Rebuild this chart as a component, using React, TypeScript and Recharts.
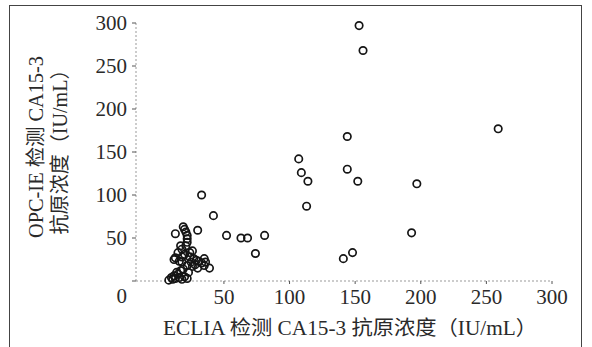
import { ScatterChart, Scatter, XAxis, YAxis } from "recharts";

// values (IU/mL)
const ecliaValues = [
  153, 156, 259, 144, 107, 109, 114, 144, 152, 197, 113, 42, 33, 52, 63, 68, 81, 74, 193, 141, 148,
  30, 35, 39, 26,
  13, 19, 20, 21, 22, 22, 22, 21, 17, 18, 15, 13, 12, 16, 18, 20, 24, 24, 27, 29, 31, 33, 35, 30,
  26, 22, 18, 23, 17, 15, 12, 10, 8, 11, 13, 16, 18, 20, 22, 14, 19, 25, 28, 36,
];
const opcValues = [
  297, 268, 177, 168, 142, 126, 116, 130, 116, 113, 87, 76, 100, 53, 50, 50, 53, 32, 56, 26, 33,
  59, 26, 15, 35,
  55, 63, 60, 57, 53, 49, 45, 41, 41, 37, 33, 27, 25, 23, 28, 31, 33, 28, 26, 24, 23, 21, 18, 15,
  17, 18, 22, 10, 12, 8, 6, 4, 1, 2, 3, 4, 2, 5, 3, 10, 14, 22, 19, 22,
];
const xTicks = [50, 100, 150, 200, 250, 300];
const yTicks = [0, 50, 100, 150, 200, 250, 300];
const xTitle = "ECLIA 检测 CA15-3 抗原浓度（IU/mL）";
const yTitleLines = ["OPC-IE 检测 CA15-3", "抗原浓度（IU/mL）"];

const points = ecliaValues.map((x, i) => ({ x, y: opcValues[i] }));

const FONT = "'Liberation Serif', 'DejaVu Serif', 'Noto Sans CJK SC', serif";
const INK = "#2a2a2a";

const YTick = (props: any) => {
  const { x, y, payload } = props;
  // the shared origin "0" sits below the corner
  const shift = payload.value === 0 ? 15 : 0;
  return (
    <text x={x} y={y + shift} dy="0.35em" textAnchor="end" fontSize={21} fontFamily={FONT} fill={INK}>
      {payload.value}
    </text>
  );
};

const Dot = (props: any) => (
  <circle cx={props.cx} cy={props.cy} r={3.7} fill="none" stroke="#151515" strokeWidth={1.7} />
);

export default function App() {
  return (
    <div style={{ position: "absolute", left: 0, top: 0, width: 592, height: 347, background: "#fff" }}>
      <div
        style={{
          position: "absolute",
          left: 9,
          top: 5,
          width: 573,
          height: 360,
          border: "1.5px solid #444",
          boxSizing: "border-box",
        }}
      />
      <ScatterChart width={592} height={347} margin={{ top: 23, right: 40, bottom: 36, left: 86 }}>
        <XAxis
          type="number"
          dataKey="x"
          domain={[-17, 300]}
          ticks={xTicks}
          height={30}
          axisLine={{ stroke: "#999", strokeDasharray: "2 2" }}
          tickLine={{ stroke: "#555" }}
          tickSize={3}
          tickMargin={5}
          tick={{ fontSize: 21, fontFamily: FONT, fill: INK }}
        />
        <YAxis
          type="number"
          dataKey="y"
          domain={[0, 300]}
          ticks={yTicks}
          width={50}
          axisLine={{ stroke: "#999", strokeDasharray: "2 2" }}
          tickLine={{ stroke: "#555" }}
          tickSize={4}
          tickMargin={5}
          tick={<YTick />}
        />
        <Scatter data={points} shape={<Dot />} isAnimationActive={false} />
      </ScatterChart>
      <svg width={592} height={347} style={{ position: "absolute", left: 0, top: 0, pointerEvents: "none" }}>
        <text
          x={350}
          y={328}
          dy="0.35em"
          textAnchor="middle"
          fontSize={20}
          fontFamily={FONT}
          fill={INK}
          textLength={374}
          lengthAdjust="spacingAndGlyphs"
        >
          {xTitle}
        </text>
        {yTitleLines.map((line, i) => (
          <text
            key={line}
            x={0}
            y={0}
            dy="0.35em"
            transform={`translate(${i === 0 ? 36 : 60}, 147) rotate(-90)`}
            textAnchor="middle"
            fontSize={20}
            fontFamily={FONT}
            fill={INK}
            textLength={i === 0 ? 182 : 175}
            lengthAdjust="spacingAndGlyphs"
          >
            {line}
          </text>
        ))}
      </svg>
    </div>
  );
}
